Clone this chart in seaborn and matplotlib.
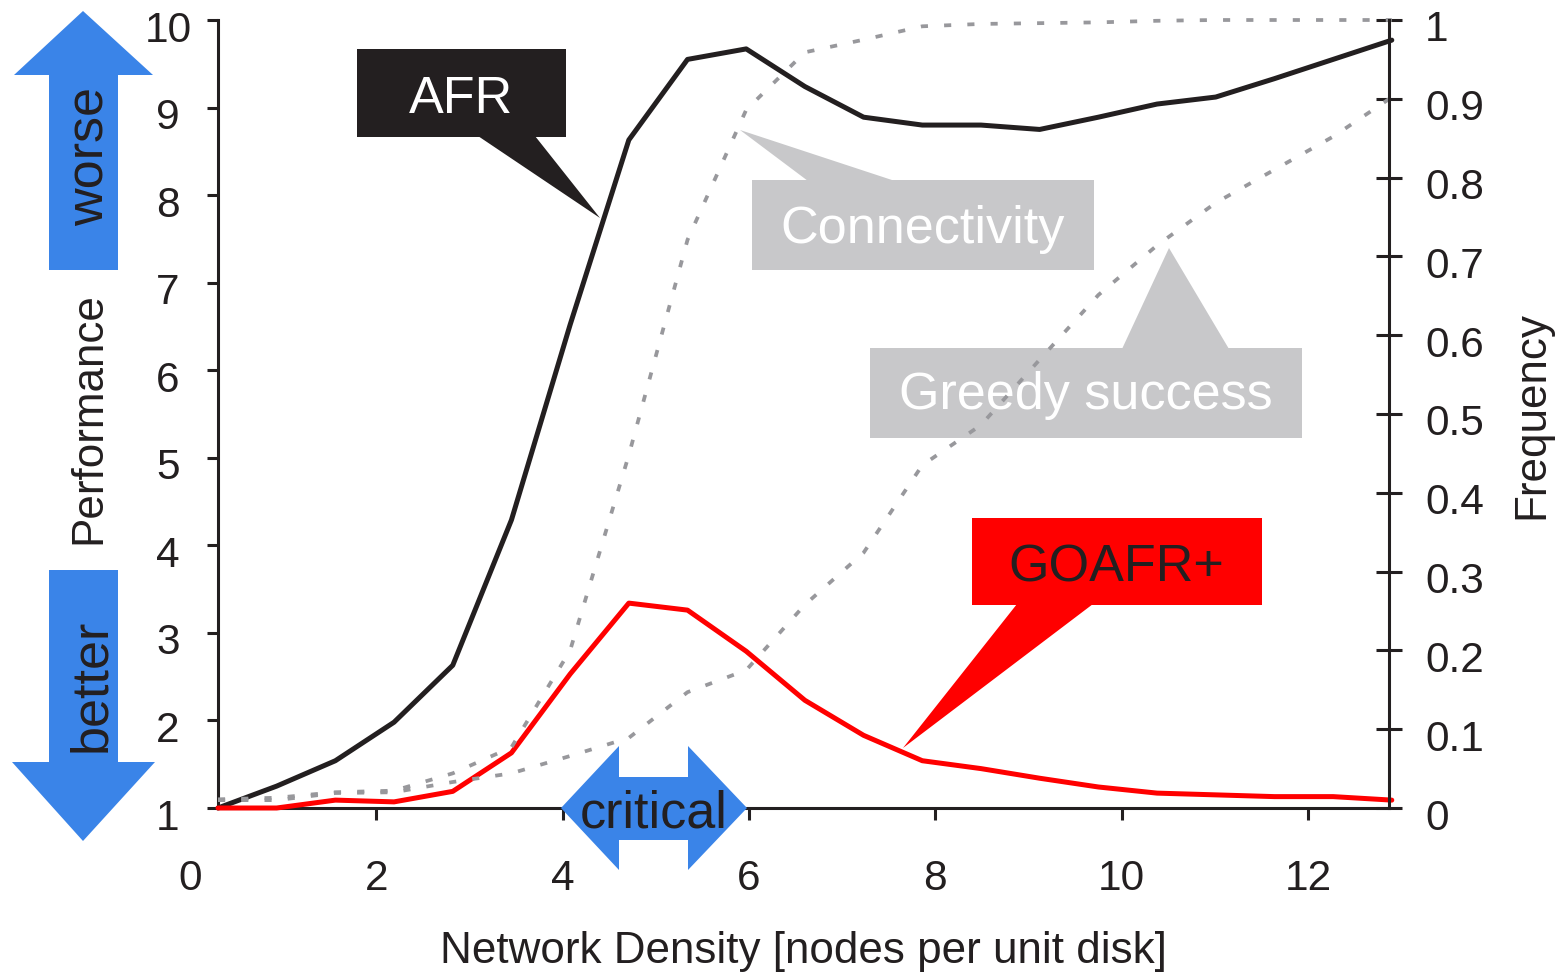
import matplotlib
matplotlib.use("Agg")
import matplotlib.pyplot as plt
import matplotlib.transforms as mtrans
from matplotlib.patches import Polygon
import pandas as pd
import seaborn as sns

# ---------------- data ----------------
density = [0.3, 0.93, 1.56, 2.19, 2.82, 3.45, 4.08, 4.71, 5.34, 5.97, 6.6,
           7.23, 7.86, 8.49, 9.12, 9.75, 10.38, 11.01, 11.64, 12.27, 12.9]
afr = [1.0, 1.25, 1.54, 1.98, 2.63, 4.29, 6.52, 8.63, 9.55, 9.67, 9.24,
       8.89, 8.80, 8.80, 8.75, 8.89, 9.04, 9.12, 9.33, 9.55, 9.77]
goafr = [1.0, 1.0, 1.09, 1.07, 1.19, 1.63, 2.53, 3.34, 3.26, 2.79, 2.23,
         1.83, 1.54, 1.45, 1.34, 1.24, 1.17, 1.15, 1.13, 1.13, 1.09]
connectivity = [0.011, 0.013, 0.020, 0.022, 0.044, 0.077, 0.200, 0.448, 0.721,
                0.886, 0.959, 0.975, 0.992, 0.995, 0.996, 0.997, 0.999, 1.0,
                1.0, 1.0, 1.0]
greedy = [0.010, 0.010, 0.019, 0.020, 0.033, 0.044, 0.066, 0.089, 0.147, 0.175,
          0.258, 0.324, 0.435, 0.486, 0.569, 0.651, 0.714, 0.768, 0.810, 0.852,
          0.902]

x_ticks = [2, 4, 6, 8, 10, 12]
x_tick_labels = ["2", "4", "6", "8", "10", "12"]
perf_ticks = [1, 2, 3, 4, 5, 6, 7, 8, 9, 10]
perf_labels = ["1", "2", "3", "4", "5", "6", "7", "8", "9", "10"]
freq_ticks = [0, 0.1, 0.2, 0.3, 0.4, 0.5, 0.6, 0.7, 0.8, 0.9, 1.0]
freq_labels = ["0", "0.1", "0.2", "0.3", "0.4", "0.5", "0.6", "0.7", "0.8", "0.9", "1"]

# ---------------- style ----------------
DARK = "#231f20"
RED = "#ff0000"
GRAY_LINE = "#98989c"
GRAY_BOX = "#c8c8ca"
BLUE = "#3a84e8"

sns.set_theme(style="white")
plt.rcParams["font.family"] = ["Liberation Sans", "DejaVu Sans"]

W, H = 1555, 975
fig = plt.figure(figsize=(W / 100, H / 100), dpi=100)
ax = fig.add_axes([218 / W, 1 - 808 / H, (1389 - 218) / W, (808 - 20) / H])
ax2 = ax.twinx()

df = pd.DataFrame({"density": density, "AFR": afr, "GOAFR+": goafr,
                   "Connectivity": connectivity, "Greedy": greedy})

sns.lineplot(data=df, x="density", y="AFR", ax=ax, color=DARK, linewidth=3.6,
             clip_on=False, zorder=3)
sns.lineplot(data=df, x="density", y="GOAFR+", ax=ax, color=RED, linewidth=3.6,
             clip_on=False, zorder=3)
sns.lineplot(data=df, x="density", y="Connectivity", ax=ax2, color=GRAY_LINE,
             linewidth=2.7, clip_on=False, zorder=2)
sns.lineplot(data=df, x="density", y="Greedy", ax=ax2, color=GRAY_LINE,
             linewidth=2.7, clip_on=False, zorder=2)
for ln in ax2.lines:
    ln.set_linestyle((0, (1.9, 4.3)))

ax.set_xlim(0.3, 12.87)
ax.set_ylim(1, 10)
ax2.set_ylim(0, 1)

# spines
for s in ["top", "right"]:
    ax.spines[s].set_visible(False)
for s in ["top", "left", "bottom"]:
    ax2.spines[s].set_visible(False)
for s in ["left", "bottom"]:
    ax.spines[s].set_linewidth(2.2)
    ax.spines[s].set_color(DARK)
ax2.spines["right"].set_linewidth(2.2)
ax2.spines["right"].set_color(DARK)

# ticks
ax.set_xticks(x_ticks, x_tick_labels)
ax.set_yticks(perf_ticks, perf_labels)
ax2.set_yticks(freq_ticks, freq_labels)
ax.tick_params(axis="x", bottom=True, direction="out", length=8.5, width=2.2,
               color=DARK, labelcolor=DARK, labelsize=30.5, pad=28)
ax.tick_params(axis="y", left=True, direction="out", length=8, width=2.2,
               color=DARK, labelcolor=DARK, labelsize=30.5, pad=28)
ax2.tick_params(axis="y", right=True, direction="inout", length=18.7, width=2.2,
                color=DARK, labelcolor=DARK, labelsize=30.5, pad=16.5)
down = mtrans.ScaledTranslation(0, -6 / 100, fig.dpi_scale_trans)
for lbl in ax.get_yticklabels():
    lbl.set_horizontalalignment("center")
    lbl.set_transform(lbl.get_transform() + down)
for lbl in ax2.get_yticklabels():
    lbl.set_transform(lbl.get_transform() + down)

ax.grid(False)
ax2.grid(False)
ax.set_xlabel("")
ax.set_ylabel("")
ax2.set_ylabel("")


def P(x, y):
    return (x / W, 1 - y / H)


# "0" label at x = 0 (outside the view limits)
x0_px = 218 + (0 - 0.3) * (1389 - 218) / (12.87 - 0.3)
fig.text(*P(x0_px, 890), "0", ha="center", va="baseline", fontsize=30.5, color=DARK)

# axis labels
fig.text(*P(803, 963), "Network Density [nodes per unit disk]", ha="center",
         va="baseline", fontsize=31.7, color=DARK)
fig.text(*P(100, 418), "Performance", rotation=90, rotation_mode="anchor",
         ha="center", va="baseline", fontsize=31.7, color=DARK)
fig.text(*P(1543, 415), "Frequency", rotation=90, rotation_mode="anchor",
         ha="center", va="baseline", fontsize=31.7, color=DARK)


def poly(pts, color, z):
    p = Polygon([P(x, y) for x, y in pts], closed=True, facecolor=color,
                edgecolor="none", transform=fig.transFigure, clip_on=False,
                zorder=z)
    ax2.add_patch(p)


def rect(x0, y0, x1, y1, color, z):
    poly([(x0, y0), (x1, y0), (x1, y1), (x0, y1)], color, z)


def label(x, y, s, color, z=5, **kw):
    ax2.text(*P(x, y), s, transform=fig.transFigure, color=color, fontsize=37.5,
             ha="center", va="baseline", zorder=z, clip_on=False, **kw)


# AFR callout
rect(357, 49, 566, 137, DARK, 4)
poly([(478, 136), (535, 136), (600, 218)], DARK, 4)
label(461, 113, "AFR", "white")

# Connectivity callout
rect(752, 180, 1094, 270, GRAY_BOX, 1)
poly([(808, 181), (895, 181), (740, 130)], GRAY_BOX, 1)
label(923, 243, "Connectivity", "white", z=1.5)

# Greedy success callout
rect(870, 348, 1302, 438, GRAY_BOX, 1)
poly([(1122, 349), (1229, 349), (1169, 248)], GRAY_BOX, 1)
label(1086, 409, "Greedy success", "white", z=1.5)

# GOAFR+ callout
rect(972, 518, 1262, 605, RED, 4)
poly([(1017, 604), (1093, 604), (903, 748)], RED, 4)
label(1116, 582, "GOAFR+", DARK)

# blue arrows
poly([(49, 270), (49, 75), (14, 75), (83, 11), (153, 75), (118, 75), (118, 270)], BLUE, 4)
poly([(49, 570), (118, 570), (118, 762), (155, 762), (83, 841), (12, 762), (49, 762)], BLUE, 4)
poly([(561, 808), (619, 746), (619, 777), (688, 777), (688, 746), (747, 808),
      (688, 870), (688, 840), (619, 840), (619, 870)], BLUE, 4)
label(104, 157, "worse", DARK, rotation=90, rotation_mode="anchor")
label(105, 685, "better", DARK, rotation=90, rotation_mode="anchor")
label(654, 827, "critical", DARK)

fig.savefig("out.png", dpi=100)
